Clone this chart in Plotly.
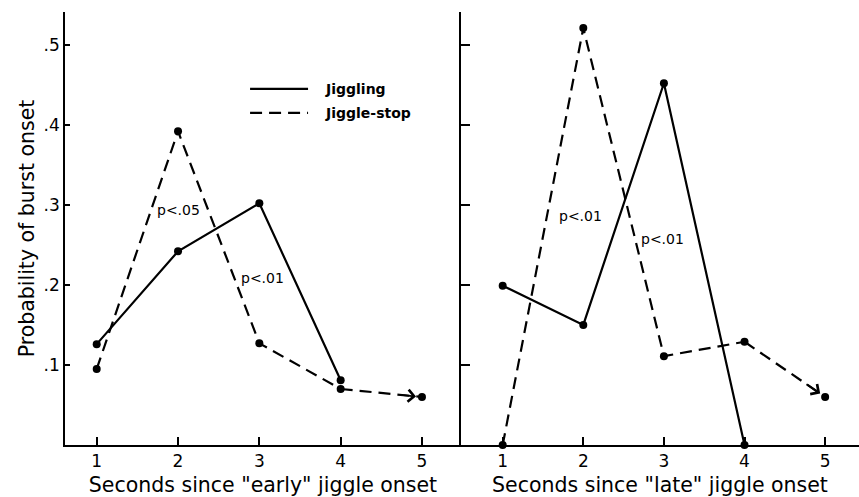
import plotly.graph_objects as go

seconds = [1, 2, 3, 4, 5]
early_jiggling = [0.126, 0.242, 0.302, 0.081]
early_stop = [0.095, 0.392, 0.127, 0.070, 0.060]
late_jiggling = [0.199, 0.150, 0.452, 0.0]
late_stop = [0.0, 0.521, 0.111, 0.129, 0.060]
y_ticks = [0.1, 0.2, 0.3, 0.4, 0.5]
y_tick_labels = [".1", ".2", ".3", ".4", ".5"]
x_titles = ['Seconds since "early" jiggle onset', 'Seconds since "late" jiggle onset']
legend_names = ["Jiggling", "Jiggle-stop"]
p_labels_early = [(2.0, 0.294, "p<.05"), (3.04, 0.209, "p<.01")]
p_labels_late = [(1.96, 0.286, "p<.01"), (2.98, 0.258, "p<.01")]

FONT = "DejaVu Sans"
fig = go.Figure()

def add_panel(xa, ya, jig, stop):
    n = len(stop)
    fig.add_trace(go.Scatter(x=seconds[:len(jig)], y=jig, xaxis=xa, yaxis=ya, mode="lines+markers",
                             line=dict(color="black", width=2.2), cliponaxis=False,
                             marker=dict(color="black", size=8), showlegend=False))
    fig.add_trace(go.Scatter(x=seconds[:n - 1], y=stop[:n - 1], xaxis=xa, yaxis=ya, mode="lines+markers",
                             line=dict(color="black", width=2.2, dash="12px,7px"), cliponaxis=False,
                             marker=dict(color="black", size=8), showlegend=False))
    fig.add_trace(go.Scatter(x=[seconds[n - 1]], y=[stop[n - 1]], xaxis=xa, yaxis=ya, mode="markers",
                             cliponaxis=False,
                             marker=dict(color="black", size=8), showlegend=False))
    fig.add_trace(go.Scatter(x=seconds[n - 2:n], y=stop[n - 2:n], xaxis=xa, yaxis=ya, mode="lines",
                             line=dict(color="black", width=2.2, dash="12px,7px"), showlegend=False))
    fig.add_annotation(x=seconds[n - 1], y=stop[n - 1], ax=seconds[n - 2] + 0.75, ay=stop[n - 2] + 0.75 * (stop[n - 1] - stop[n - 2]),
                       xref=xa, yref=ya, axref=xa, ayref=ya, text="", showarrow=True,
                       arrowhead=4, arrowsize=1.3, arrowwidth=1.8, arrowcolor="black", standoff=6)

add_panel("x", "y", early_jiggling, early_stop)
add_panel("x2", "y2", late_jiggling, late_stop)

for (px, py, t) in p_labels_early:
    fig.add_annotation(x=px, y=py, xref="x", yref="y", text=t, showarrow=False,
                       font=dict(family=FONT, size=14, color="black"))
for (px, py, t) in p_labels_late:
    fig.add_annotation(x=px, y=py, xref="x2", yref="y2", text=t, showarrow=False,
                       font=dict(family=FONT, size=14, color="black"))

# legend
fig.add_shape(type="line", xref="x", yref="y", x0=2.886, x1=3.599, y0=0.445, y1=0.445,
              line=dict(color="black", width=2.2))
fig.add_shape(type="line", xref="x", yref="y", x0=2.886, x1=3.599, y0=0.415, y1=0.415,
              line=dict(color="black", width=2.2, dash="12px,7px"))
fig.add_annotation(x=3.78, y=0.445, xref="x", yref="y", text="<b>" + legend_names[0] + "</b>", showarrow=False,
                   xanchor="left", font=dict(family=FONT, size=14, color="black"))
fig.add_annotation(x=3.78, y=0.415, xref="x", yref="y", text="<b>" + legend_names[1] + "</b>", showarrow=False,
                   xanchor="left", font=dict(family=FONT, size=14, color="black"))

split = (461 - 65) / (859 - 65)
common_x = dict(showline=True, linecolor="black", linewidth=1.5, ticks="inside", ticklen=8,
                tickcolor="black", tickwidth=1.5, tickvals=seconds, ticktext=[str(s) for s in seconds],
                showgrid=False, zeroline=False, tickfont=dict(family=FONT, size=17, color="black"),
                title_font=dict(family=FONT, size=20.5, color="black"), title_standoff=8)
common_y = dict(showline=True, linecolor="black", linewidth=1.5, ticks="inside",
                tickcolor="black", tickwidth=1.5, tickvals=y_ticks, showgrid=False, zeroline=False,
                range=[0, 0.541])

fig.update_layout(
    width=859, height=497, margin=dict(l=65, r=0, t=12, b=52),
    paper_bgcolor="white", plot_bgcolor="white",
    xaxis=dict(domain=[0, split], range=[0.61, 5.48], title_text=x_titles[0], **common_x),
    xaxis2=dict(domain=[split, 1], range=[0.483, 5.42], title_text=x_titles[1], anchor="y2", **common_x),
    yaxis=dict(ticklen=5, ticktext=y_tick_labels, tickfont=dict(family=FONT, size=17, color="black"),
               title_text="Probability of burst onset", title_standoff=3,
               title_font=dict(family=FONT, size=20.5, color="black"), **common_y),
    yaxis2=dict(anchor="x2", ticklen=9, showticklabels=False, **common_y),
)

fig.write_html("out.html")
